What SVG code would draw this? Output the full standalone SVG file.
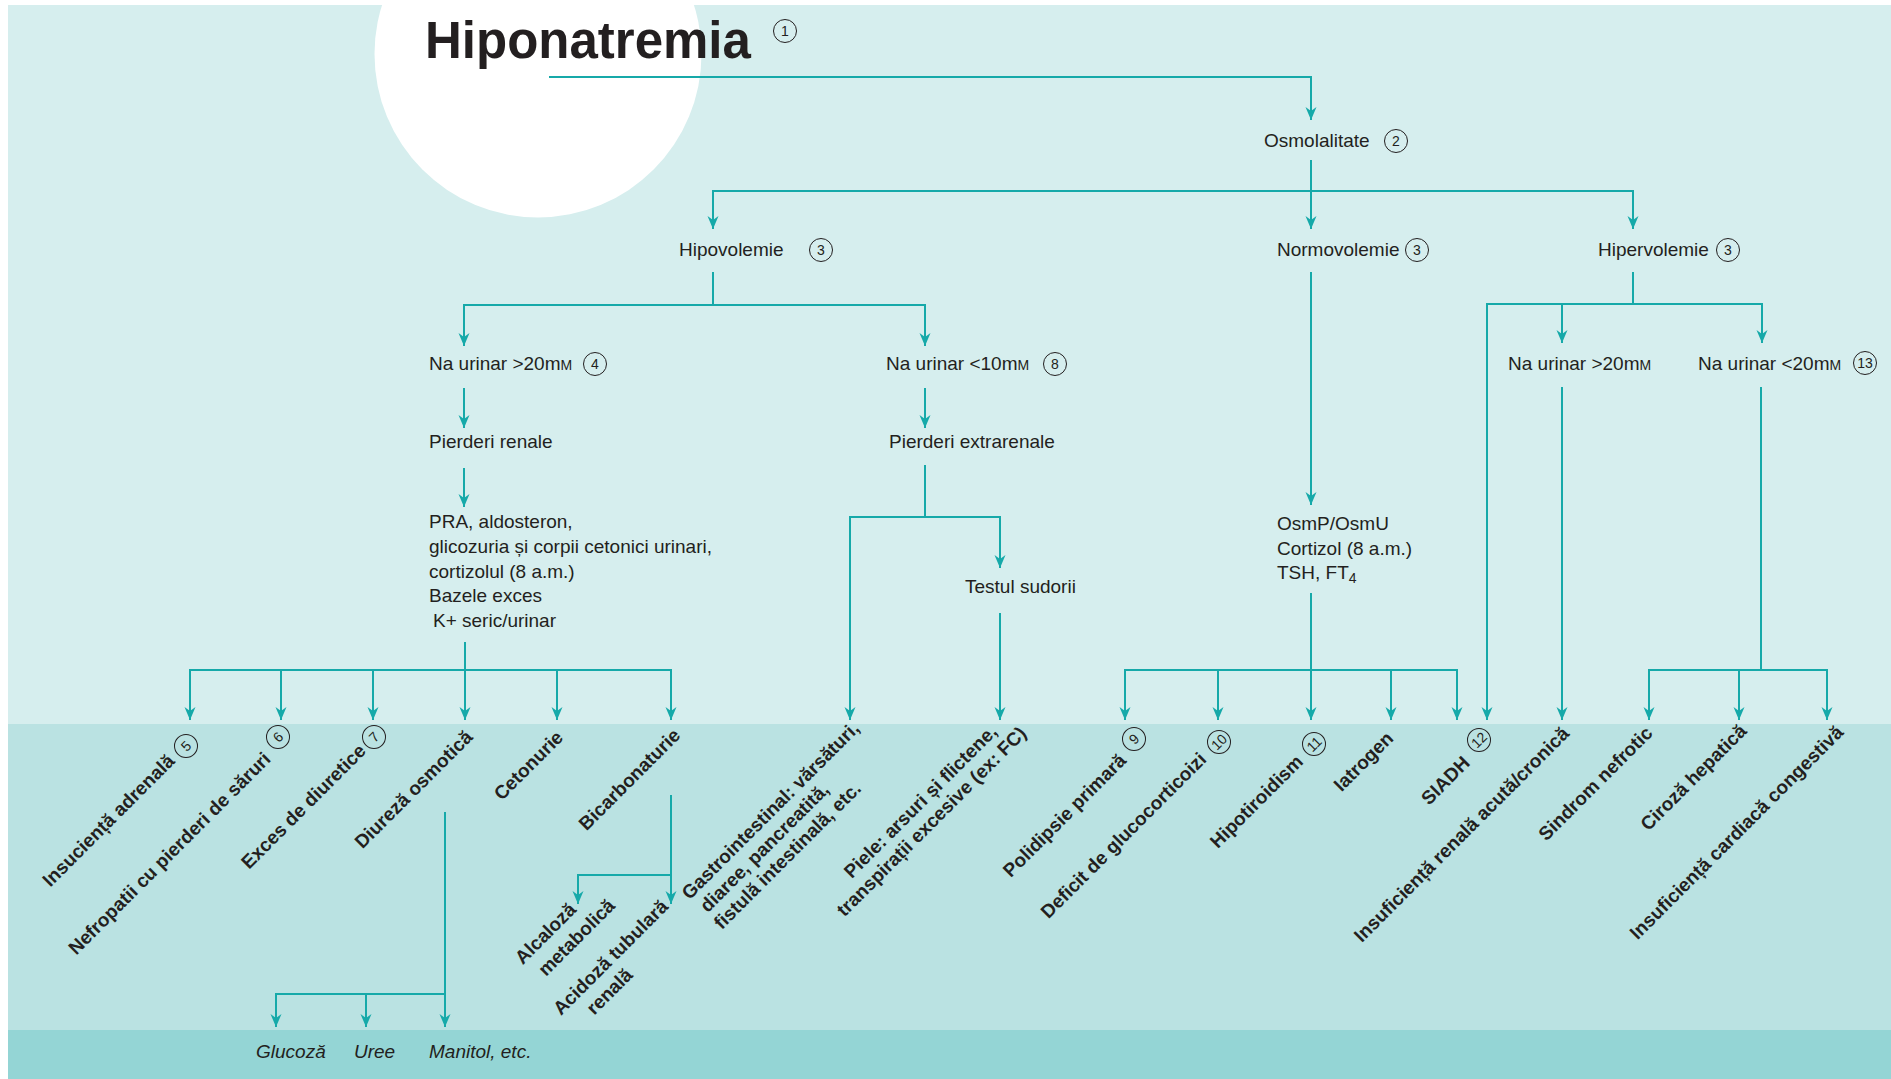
<svg xmlns="http://www.w3.org/2000/svg" width="1891" height="1079" viewBox="0 0 1891 1079">
  <style>
    .t { font-family: "Liberation Sans", Arial, sans-serif; font-size: 19px; fill: #231f20; }
    .b { font-weight: bold; }
    .i { font-style: italic; }
    .m { text-anchor: middle; }
    .sc { font-size: 14px; }
    .num circle { fill: none; stroke: #231f20; stroke-width: 1; }
    .num text { font-family: "Liberation Sans", Arial, sans-serif; font-size: 14px; fill: #231f20; text-anchor: middle; }
    .ln { fill: none; stroke: #16a9a9; stroke-width: 2; }
    .ar { marker-end: url(#ah); }
  </style>
  <defs>
    <marker id="ah" viewBox="-13 -6 14 12" markerWidth="14" markerHeight="12" refX="0" refY="0" orient="auto" markerUnits="userSpaceOnUse">
      <path d="M0,0 L-13,-5.5 L-9,0 L-13,5.5 Z" fill="#16a9a9"/>
    </marker>
  </defs>

  <!-- background bands -->
  <rect x="0" y="0" width="1891" height="1079" fill="#ffffff"/>
  <rect x="8" y="5" width="1883" height="719" fill="#d6eeee"/>
  <rect x="8" y="724" width="1883" height="306" fill="#bae2e2"/>
  <rect x="8" y="1030" width="1883" height="49" fill="#94d5d5"/>
  <circle cx="538" cy="54" r="163.5" fill="#ffffff"/>

  <!-- connectors -->
  <g id="connectors" class="ln">
    <path class="ar" d="M549,77 H1311 V120"/>
    <path class="ar" d="M1311,160 V229"/>
    <path class="ar" d="M1311,191 H713 V229"/>
    <path class="ar" d="M1311,191 H1633 V229"/>

    <path d="M713,272 V305"/>
    <path class="ar" d="M713,305 H464 V346"/>
    <path class="ar" d="M713,305 H925 V346"/>
    <path class="ar" d="M464,388 V428"/>
    <path class="ar" d="M464,468 V507"/>
    <path class="ar" d="M925,388 V428"/>
    <path class="ar" d="M925,465 V517 H850 V720"/>
    <path class="ar" d="M925,517 H1000 V568"/>
    <path class="ar" d="M1000,613 V720"/>

    <path d="M465,642 V670"/>
    <path class="ar" d="M465,670 H190 V720"/>
    <path class="ar" d="M465,670 H671 V720"/>
    <path class="ar" d="M281,670 V720"/>
    <path class="ar" d="M373,670 V720"/>
    <path class="ar" d="M465,670 V720"/>
    <path class="ar" d="M557,670 V720"/>

    <path class="ar" d="M445,812 V1027"/>
    <path class="ar" d="M445,994 H276 V1027"/>
    <path class="ar" d="M366,994 V1027"/>

    <path class="ar" d="M671,795 V904"/>
    <path class="ar" d="M671,875 H578 V904"/>

    <path class="ar" d="M1311,272 V505"/>
    <path d="M1311,593 V670"/>
    <path class="ar" d="M1311,670 H1125 V720"/>
    <path class="ar" d="M1311,670 H1457 V720"/>
    <path class="ar" d="M1218,670 V720"/>
    <path class="ar" d="M1311,670 V720"/>
    <path class="ar" d="M1391,670 V720"/>

    <path d="M1633,272 V304"/>
    <path class="ar" d="M1633,304 H1487 V720"/>
    <path class="ar" d="M1633,304 H1762 V343"/>
    <path class="ar" d="M1562,304 V343"/>
    <path class="ar" d="M1562,387 V720"/>
    <path d="M1761,387 V670"/>
    <path class="ar" d="M1761,670 H1649 V720"/>
    <path class="ar" d="M1761,670 H1827 V720"/>
    <path class="ar" d="M1739,670 V720"/>
  </g>

  <!-- title -->
  <g id="hiponatremia">
    <text class="t b" x="425" y="58" style="font-size:51px">Hiponatremia</text>
    <g class="num" transform="translate(785,31)"><circle r="11.5"/><text y="5">1</text></g>
  </g>

  <g id="osmolalitate">
    <text class="t" x="1264" y="147">Osmolalitate</text>
    <g class="num" transform="translate(1396,141)"><circle r="11.5"/><text y="5">2</text></g>
  </g>

  <g id="hipovolemie">
    <text class="t" x="679" y="256">Hipovolemie</text>
    <g class="num" transform="translate(821,250)"><circle r="11.5"/><text y="5">3</text></g>
  </g>
  <g id="normovolemie">
    <text class="t" x="1277" y="256">Normovolemie</text>
    <g class="num" transform="translate(1417,250)"><circle r="11.5"/><text y="5">3</text></g>
  </g>
  <g id="hipervolemie">
    <text class="t" x="1598" y="256">Hipervolemie</text>
    <g class="num" transform="translate(1728,250)"><circle r="11.5"/><text y="5">3</text></g>
  </g>

  <g id="na-peste-20">
    <text class="t" x="429" y="370">Na urinar &gt;20m<tspan class="sc">M</tspan></text>
    <g class="num" transform="translate(595,364)"><circle r="11.5"/><text y="5">4</text></g>
  </g>
  <g id="na-sub-10">
    <text class="t" x="886" y="370">Na urinar &lt;10m<tspan class="sc">M</tspan></text>
    <g class="num" transform="translate(1055,364)"><circle r="11.5"/><text y="5">8</text></g>
  </g>

  <g id="pierderi-renale">
    <text class="t" x="429" y="448">Pierderi renale</text>
  </g>
  <g id="pierderi-extrarenale">
    <text class="t" x="889" y="448">Pierderi extrarenale</text>
  </g>

  <g id="teste-renale">
    <text class="t" x="429" y="528">PRA, aldosteron,</text>
    <text class="t" x="429" y="553">glicozuria și corpii cetonici urinari,</text>
    <text class="t" x="429" y="578">cortizolul (8 a.m.)</text>
    <text class="t" x="429" y="602">Bazele exces</text>
    <text class="t" x="433" y="627">K+ seric/urinar</text>
  </g>

  <g id="testul-sudorii">
    <text class="t" x="965" y="593">Testul sudorii</text>
  </g>

  <g id="teste-normovolemie">
    <text class="t" x="1277" y="530">OsmP/OsmU</text>
    <text class="t" x="1277" y="555">Cortizol (8 a.m.)</text>
    <text class="t" x="1277" y="579">TSH, FT<tspan class="sc" dy="4">4</tspan></text>
  </g>

  <g id="na-peste-20-hiper">
    <text class="t" x="1508" y="370">Na urinar &gt;20m<tspan class="sc">M</tspan></text>
  </g>
  <g id="na-sub-20-hiper">
    <text class="t" x="1698" y="370">Na urinar &lt;20m<tspan class="sc">M</tspan></text>
    <g class="num" transform="translate(1865,363)"><circle r="11.5"/><text y="5">13</text></g>
  </g>

  <!-- slanted causes -->
  <g id="insuficienta-adrenala">
    <text class="t b m" transform="translate(113,825) rotate(-45)">Insuciență adrenală</text>
    <g class="num" transform="translate(186,746) rotate(-45)"><circle r="11.5"/><text y="5">5</text></g>
  </g>
  <g id="nefropatii">
    <text class="t b m" transform="translate(174,858) rotate(-45)">Nefropatii cu pierderi de săruri</text>
    <g class="num" transform="translate(278,737) rotate(-45)"><circle r="11.5"/><text y="5">6</text></g>
  </g>
  <g id="exces-diuretice">
    <text class="t b m" transform="translate(308,811) rotate(-45)">Exces de diuretice</text>
    <g class="num" transform="translate(374,737) rotate(-45)"><circle r="11.5"/><text y="5">7</text></g>
  </g>
  <g id="diureza-osmotica">
    <text class="t b m" transform="translate(418,794) rotate(-45)">Diureză osmotică</text>
  </g>
  <g id="cetonurie">
    <text class="t b m" transform="translate(533,770) rotate(-45)">Cetonurie</text>
  </g>
  <g id="bicarbonaturie">
    <text class="t b m" transform="translate(634,784) rotate(-45)">Bicarbonaturie</text>
  </g>
  <g id="alcaloza-metabolica">
    <text class="t b m" transform="translate(550,938) rotate(-45)">Alcaloză</text>
    <text class="t b m" transform="translate(581,942) rotate(-45)">metabolică</text>
  </g>
  <g id="acidoza-tubulara">
    <text class="t b m" transform="translate(615,962) rotate(-45)">Acidoză tubulară</text>
    <text class="t b m" transform="translate(614,996) rotate(-45)">renală</text>
  </g>

  <g id="gastrointestinal">
    <text class="t b m" transform="translate(775,815) rotate(-45)">Gastrointestinal: vărsături,</text>
    <text class="t b m" transform="translate(769,852) rotate(-45)">diaree, pancreatită,</text>
    <text class="t b m" transform="translate(792,860) rotate(-45)">fistulă intestinală, etc.</text>
  </g>
  <g id="piele">
    <text class="t b m" transform="translate(925,806) rotate(-45)">Piele: arsuri și flictene,</text>
    <text class="t b m" transform="translate(936,826) rotate(-45)">transpirații excesive (ex: FC)</text>
  </g>

  <g id="polidipsie">
    <text class="t b m" transform="translate(1069,820) rotate(-45)">Polidipsie primară</text>
    <g class="num" transform="translate(1134,739) rotate(-45)"><circle r="11.5"/><text y="5">9</text></g>
  </g>
  <g id="deficit-glucocorticoizi">
    <text class="t b m" transform="translate(1128,840) rotate(-45)">Deficit de glucocorticoizi</text>
    <g class="num" transform="translate(1219,742) rotate(-45)"><circle r="11.5"/><text y="5">10</text></g>
  </g>
  <g id="hipotiroidism">
    <text class="t b m" transform="translate(1261,806) rotate(-45)">Hipotiroidism</text>
    <g class="num" transform="translate(1314,744) rotate(-45)"><circle r="11.5"/><text y="5">11</text></g>
  </g>
  <g id="iatrogen">
    <text class="t b m" transform="translate(1368,766) rotate(-45)">Iatrogen</text>
  </g>
  <g id="siadh">
    <text class="t b m" transform="translate(1450,785) rotate(-45)">SIADH</text>
    <g class="num" transform="translate(1479,740) rotate(-45)"><circle r="11.5"/><text y="5">12</text></g>
  </g>
  <g id="insuficienta-renala">
    <text class="t b m" transform="translate(1466,839) rotate(-45)">Insuficiență renală acută/cronică</text>
  </g>
  <g id="sindrom-nefrotic">
    <text class="t b m" transform="translate(1600,788) rotate(-45)">Sindrom nefrotic</text>
  </g>
  <g id="ciroza-hepatica">
    <text class="t b m" transform="translate(1698,782) rotate(-45)">Ciroză hepatică</text>
  </g>
  <g id="insuficienta-cardiaca">
    <text class="t b m" transform="translate(1741,837) rotate(-45)">Insuficiență cardiacă congestivă</text>
  </g>

  <!-- osmotic agents -->
  <g id="glucoza"><text class="t i" x="256" y="1058">Glucoză</text></g>
  <g id="uree"><text class="t i" x="354" y="1058">Uree</text></g>
  <g id="manitol"><text class="t i" x="429" y="1058">Manitol, etc.</text></g>
</svg>
